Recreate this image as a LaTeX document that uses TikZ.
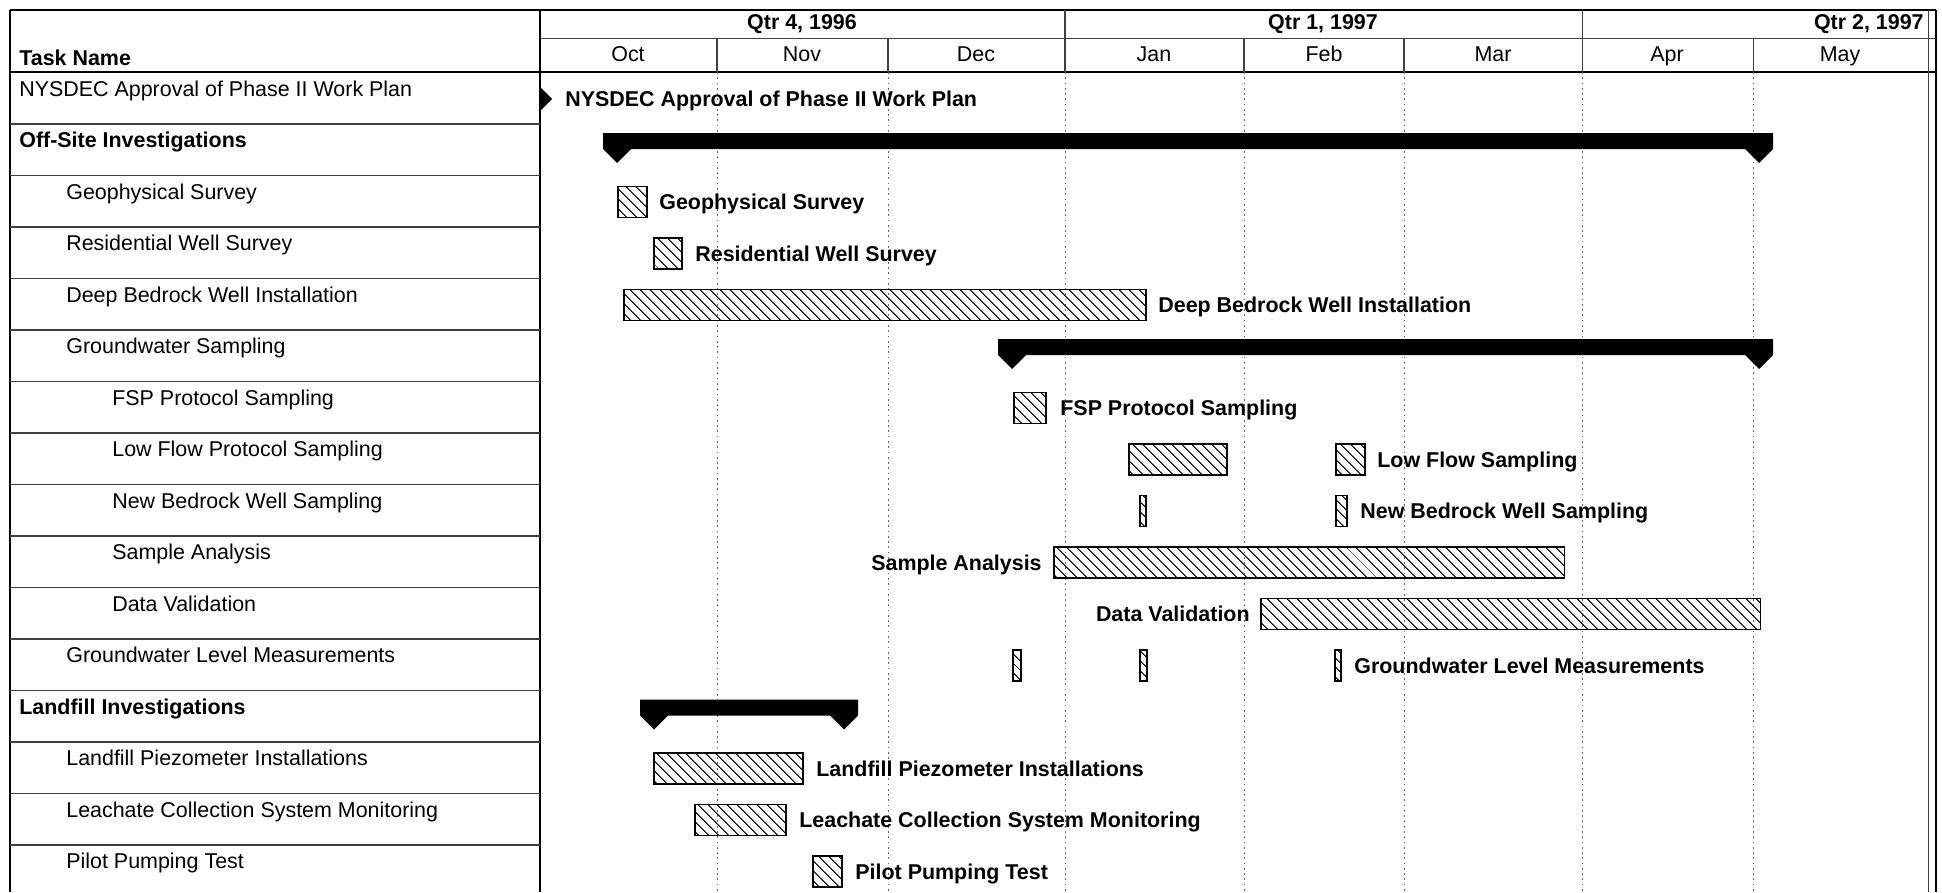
\documentclass[tikz,border=0pt]{standalone}
\usepackage{fontspec}
\setmainfont{Liberation Sans}
\usetikzlibrary{patterns.meta}

\newcommand\ganttfont{\fontsize{12.2}{14}\selectfont}

\begin{document}
\begin{tikzpicture}[
        x=0.02cm, y=-0.02cm,
        rowline/.style={black!75, line width=0.6pt},
        frame/.style={black, line width=0.8pt},
        monthline/.style={black!60, line width=0.5pt, dash pattern=on 1pt off 2pt},
        tasktext/.style={anchor=base west, inner sep=0pt, font=\ganttfont},
        grouptext/.style={tasktext, font=\ganttfont\bfseries},
        headtext/.style={anchor=base, inner sep=0pt, font=\ganttfont},
        bartext/.style={anchor=base west, inner sep=0pt, font=\ganttfont\bfseries},
        taskbar/.style={draw, line width=0.6pt, pattern={Lines[angle=-45, distance=4pt, line width=0.6pt]}},
        sumbar/.style={fill=black}
    ]
    \useasboundingbox (0,0) rectangle (1942,892);

    % Table frame
    \draw[frame] (10,10) -- (1936,10);
    \draw[rowline] (540,38.5) -- (1936,38.5);
    \draw[frame] (10,72) -- (1936,72);
    \draw[frame] (10,10) -- (10,892);
    \draw[frame] (540,10) -- (540,892);
    \draw[rowline] (1928,10) -- (1928,892);
    \draw[frame] (1936,10) -- (1936,892);
    \draw[rowline] (1065,10) -- (1065,38.5);
    \draw[rowline] (1582,10) -- (1582,38.5);
    \foreach \i in {1,...,15}
        \draw[rowline] (10,{72.5+51.5*\i}) -- (540,{72.5+51.5*\i});
    \foreach \x in {717,888,1065,1244,1404,1582,1753} {
        \draw[rowline] (\x,38.5) -- (\x,72);
        \draw[monthline] (\x,72) -- (\x,892);
    }

    % Timescale
    \node[headtext, font=\ganttfont\bfseries] (qtrfour) at (802,30) {Qtr 4, 1996};
    \node[headtext, font=\ganttfont\bfseries] (qtrone) at (1323,30) {Qtr 1, 1997};
    \node[headtext, font=\ganttfont\bfseries, anchor=base east] (qtrtwo) at (1924,30) {Qtr 2, 1997};
    \node[headtext] (oct) at (628,62) {Oct};
    \node[headtext] (nov) at (802,62) {Nov};
    \node[headtext] (dec) at (976,62) {Dec};
    \node[headtext] (jan) at (1154,62) {Jan};
    \node[headtext] (feb) at (1324,62) {Feb};
    \node[headtext] (mar) at (1493,62) {Mar};
    \node[headtext] (apr) at (1667,62) {Apr};
    \node[headtext] (may) at (1840,62) {May};

    % Task names
    \node[grouptext] (taskname) at (19,66) {Task Name};
    \node[tasktext] (approval) at (19,96) {NYSDEC Approval of Phase II Work Plan};
    \node[grouptext] (offsite) at (19,147.5) {Off-Site Investigations};
    \node[tasktext] (geophys) at (66,199) {Geophysical Survey};
    \node[tasktext] (reswell) at (66,250.5) {Residential Well Survey};
    \node[tasktext] (deepwell) at (66,302) {Deep Bedrock Well Installation};
    \node[tasktext] (gwsampling) at (66,353.5) {Groundwater Sampling};
    \node[tasktext] (fsp) at (112,405) {FSP Protocol Sampling};
    \node[tasktext] (lowflow) at (112,456.5) {Low Flow Protocol Sampling};
    \node[tasktext] (newwell) at (112,508) {New Bedrock Well Sampling};
    \node[tasktext] (analysis) at (112,559.5) {Sample Analysis};
    \node[tasktext] (validation) at (112,611) {Data Validation};
    \node[tasktext] (gwlevel) at (66,662.5) {Groundwater Level Measurements};
    \node[grouptext] (landfill) at (19,714) {Landfill Investigations};
    \node[tasktext] (piezo) at (66,765.5) {Landfill Piezometer Installations};
    \node[tasktext] (leachate) at (66,817) {Leachate Collection System Monitoring};
    \node[tasktext] (pumping) at (66,868.5) {Pilot Pumping Test};

    % Milestone
    \fill (539,86) -- (552,99) -- (539,112) -- cycle;
    \node[bartext] (approvalbar) at (565,106.5) {NYSDEC Approval of Phase II Work Plan};

    % Off-Site Investigations
    \fill[sumbar] (603,133) -- (1773,133) -- (1773,149) -- (1759,163) -- (1745,149)
        -- (631,149) -- (617,163) -- (603,149) -- cycle;
    \draw[taskbar] (618,186.5) rectangle (647,217.5);
    \node[bartext] (geophysbar) at (659,209.5) {Geophysical Survey};
    \draw[taskbar] (654,238) rectangle (682,269);
    \node[bartext] (reswellbar) at (695,261) {Residential Well Survey};
    \draw[taskbar] (624,289.5) rectangle (1146,320.5);
    \node[bartext] (deepwellbar) at (1158,312.5) {Deep Bedrock Well Installation};

    % Groundwater Sampling
    \fill[sumbar] (998,339) -- (1773,339) -- (1773,355) -- (1759,369) -- (1745,355)
        -- (1026,355) -- (1012,369) -- (998,355) -- cycle;
    \draw[taskbar] (1014,392.5) rectangle (1046,423.5);
    \node[bartext] (fspbar) at (1060,415.5) {FSP Protocol Sampling};
    \draw[taskbar] (1129,444) rectangle (1227,475);
    \draw[taskbar] (1336,444) rectangle (1365,475);
    \node[bartext] (lowflowbar) at (1377,467) {Low Flow Sampling};
    \draw[taskbar] (1140,495.5) rectangle (1146,526.5);
    \draw[taskbar] (1336,495.5) rectangle (1347,526.5);
    \node[bartext] (newwellbar) at (1360,518.5) {New Bedrock Well Sampling};
    \draw[taskbar] (1054,547) rectangle (1564,578);
    \node[bartext, anchor=base east] (analysisbar) at (1042,570) {Sample Analysis};
    \draw[taskbar] (1261,598.5) rectangle (1760,629.5);
    \node[bartext, anchor=base east] (validationbar) at (1250,621.5) {Data Validation};
    \draw[taskbar] (1013,650) rectangle (1021,681);
    \draw[taskbar] (1140,650) rectangle (1147,681);
    \draw[taskbar] (1335,650) rectangle (1341,681);
    \node[bartext] (gwlevelbar) at (1354,673) {Groundwater Level Measurements};

    % Landfill Investigations
    \fill[sumbar] (640,699.5) -- (858,699.5) -- (858,715.5) -- (844,729.5) -- (830,715.5)
        -- (668,715.5) -- (654,729.5) -- (640,715.5) -- cycle;
    \draw[taskbar] (654,753) rectangle (803,784);
    \node[bartext] (piezobar) at (816,776) {Landfill Piezometer Installations};
    \draw[taskbar] (695,804.5) rectangle (786,835.5);
    \node[bartext] (leachatebar) at (799,827.5) {Leachate Collection System Monitoring};
    \draw[taskbar] (813,856) rectangle (842,887);
    \node[bartext] (pumpingbar) at (855,879) {Pilot Pumping Test};

\end{tikzpicture}
\end{document}
